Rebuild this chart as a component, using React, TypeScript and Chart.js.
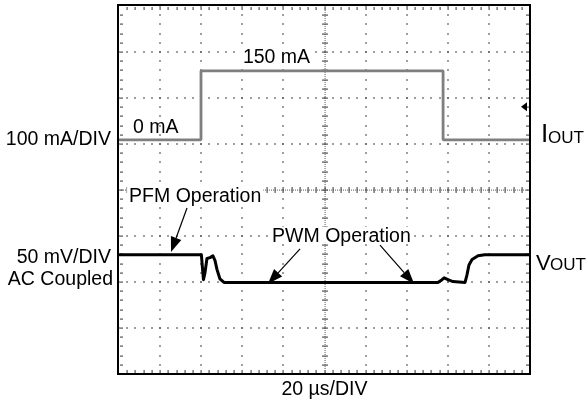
import React, { useEffect, useRef } from "react";
import { Chart, registerables } from "chart.js";

Chart.register(...registerables);

const FONT = '"Liberation Sans", Arial, Helvetica, sans-serif';

// Oscilloscope frame: 10 horizontal divisions of 20 µs, 8 vertical divisions
const X_TICKS_US = [0, 20, 40, 60, 80, 100, 120, 140, 160, 180, 200];
const Y_TICKS_DIV = [-4, -3, -2, -1, 0, 1, 2, 3, 4];

// Channel scaling
const MA_PER_DIV = 100;
const MV_PER_DIV = 50;
const IOUT_ZERO_DIV = 1.09; // screen position of 0 mA (divisions above centre)
const VOUT_REF_DIV = -1.41; // screen position of PFM VOUT level

// IOUT trace (mA)
const IOUT_T_US = [0, 39.9, 39.9, 157.7, 157.7, 200];
const IOUT_MA = [0, 0, 150, 150, 0, 0];

// VOUT trace, AC coupled (mV relative to PFM level)
const VOUT_T_US = [0, 40.1, 40.6, 41.1, 41.8, 42.8, 44.3, 45.7, 46.7, 47.7, 49.1, 51.1, 155.2, 157.2, 158.2, 160.1, 162.5, 168.4, 169.3, 170.3, 171.8, 174.7, 178, 200];
const VOUT_MV = [0, 0, -14, -27, -20, -4, -3, -1, -6, -16, -26, -30, -30, -27, -25, -27, -29, -30, -22, -11, -5, -1, 0, 0];

const TRIGGER_MA = 72;

export default function App() {
  const ref = useRef<HTMLCanvasElement | null>(null);

  useEffect(() => {
    const canvas = ref.current;
    if (!canvas) return;

    const scopePlugin = {
      id: "scope",
      beforeDatasetsDraw(chart: any) {
        const { ctx, chartArea: a, scales } = chart;
        const xs = scales.x;
        const yd = scales.yDiv;
        ctx.save();
        ctx.fillStyle = "#555";
        // vertical dotted gridlines
        X_TICKS_US.forEach((t) => {
          if (t === 0 || t === 200 || t === 100) return;
          const x = Math.round(xs.getPixelForValue(t));
          for (let k = 0; k <= 40; k++) {
            const y = yd.getPixelForValue(-4 + k * 0.2);
            ctx.fillRect(x - 0.75, Math.round(y) - 0.75, 1.5, 1.5);
          }
        });
        // horizontal dotted gridlines
        Y_TICKS_DIV.forEach((d) => {
          if (d === -4 || d === 4 || d === 0) return;
          const y = Math.round(yd.getPixelForValue(d));
          for (let k = 0; k <= 50; k++) {
            const x = xs.getPixelForValue(k * 4);
            ctx.fillRect(Math.round(x) - 0.75, y - 0.75, 1.5, 1.5);
          }
        });
        // minor ticks along border
        for (let k = 1; k < 50; k++) {
          const x = Math.round(xs.getPixelForValue(k * 4));
          ctx.fillRect(x - 0.5, a.top + 1, 1.2, 3);
          ctx.fillRect(x - 0.5, a.bottom - 4, 1.2, 3);
        }
        for (let k = 1; k < 40; k++) {
          const y = Math.round(yd.getPixelForValue(-4 + k * 0.2));
          ctx.fillRect(a.left + 1, y - 0.5, 3, 1.2);
          ctx.fillRect(a.right - 4, y - 0.5, 3, 1.2);
        }
        // centre crosshair
        const cx = Math.round(xs.getPixelForValue(100));
        const cy = Math.round(yd.getPixelForValue(0));
        ctx.fillStyle = "#777";
        for (let y = a.top; y <= a.bottom; y += 2) ctx.fillRect(cx - 0.5, y, 1.2, 1);
        for (let x = a.left; x <= a.right; x += 2) ctx.fillRect(x, cy - 0.5, 1, 1.2);
        ctx.fillStyle = "#555";
        for (let k = 1; k < 50; k++) {
          const x = Math.round(xs.getPixelForValue(k * 4));
          ctx.fillRect(x - 0.5, cy - 3, 1.2, 6);
        }
        for (let k = 1; k < 40; k++) {
          const y = Math.round(yd.getPixelForValue(-4 + k * 0.2));
          ctx.fillRect(cx - 3, y - 0.5, 6, 1.2);
        }
        ctx.restore();
      },
      afterDatasetsDraw(chart: any) {
        const { ctx, chartArea: a, scales } = chart;
        const xs = scales.x;
        const yd = scales.yDiv;
        const yi = scales.yI;
        const yv = scales.yV;
        ctx.save();
        // frame
        ctx.strokeStyle = "#000";
        ctx.lineWidth = 2;
        ctx.strokeRect(a.left - 1, a.top - 1, a.right - a.left + 1, a.bottom - a.top + 1);

        // trigger level marker
        const ty = yi.getPixelForValue(TRIGGER_MA);
        ctx.fillStyle = "#000";
        ctx.beginPath();
        ctx.moveTo(a.right - 9, ty);
        ctx.lineTo(a.right - 3, ty - 4.5);
        ctx.lineTo(a.right - 3, ty + 4.5);
        ctx.closePath();
        ctx.fill();

        // arrows
        const arrow = (t0: number, d0: number, t1: number, d1: number) => {
          const x0 = xs.getPixelForValue(t0), y0 = yd.getPixelForValue(d0);
          const x1 = xs.getPixelForValue(t1), y1 = yd.getPixelForValue(d1);
          const ang = Math.atan2(y1 - y0, x1 - x0);
          const L = 15, W = 5.5;
          const bx = x1 - L * Math.cos(ang), by = y1 - L * Math.sin(ang);
          ctx.strokeStyle = "#000";
          ctx.lineWidth = 1.2;
          ctx.beginPath();
          ctx.moveTo(x0, y0);
          ctx.lineTo(bx, by);
          ctx.stroke();
          ctx.beginPath();
          ctx.moveTo(x1, y1);
          ctx.lineTo(bx + W * Math.sin(ang), by - W * Math.cos(ang));
          ctx.lineTo(bx - W * Math.sin(ang), by + W * Math.cos(ang));
          ctx.closePath();
          ctx.fill();
        };
        arrow(33.1, -0.39, 25.3, -1.35);
        arrow(88.1, -1.28, 72.5, -2.04);
        arrow(127.0, -1.2, 143.6, -2.04);

        // labels
        const text = (s: string, x: number, y: number, size: number, align: CanvasTextAlign = "left", bg = false) => {
          ctx.font = `${size}px ${FONT}`;
          ctx.textAlign = align;
          ctx.textBaseline = "alphabetic";
          if (bg) {
            const w = ctx.measureText(s).width;
            const x0 = align === "left" ? x : align === "right" ? x - w : x - w / 2;
            ctx.fillStyle = "#fff";
            ctx.fillRect(x0 - 2, y - size * 0.78, w + 4, size * 0.82);
          }
          ctx.fillStyle = "#000";
          ctx.fillText(s, x, y);
        };
        const F = 19.5;
        text("0 mA", xs.getPixelForValue(6.8), yi.getPixelForValue(15), F);
        text("150 mA", xs.getPixelForValue(60.3), yi.getPixelForValue(167), F, "left", true);
        text("PFM Operation", xs.getPixelForValue(4.9), yd.getPixelForValue(-0.26), F, "left", true);
        text("PWM Operation", xs.getPixelForValue(74.5), yd.getPixelForValue(-1.13), F, "left", true);

        const i0 = yi.getPixelForValue(0);
        const v0 = yv.getPixelForValue(0);
        text("100 mA/DIV", a.left - 8, i0 + 5, F, "right");
        text("50 mV/DIV", a.left - 8, v0 + 8, F, "right");
        text("AC Coupled", a.left - 6, v0 + 30, F, "right");
        text("20 µs/DIV", (a.left + a.right) / 2, a.bottom + 21, F, "center");

        text("I", a.right + 11, i0 + 2, 26);
        text("OUT", a.right + 18, i0 + 3, 17);
        text("V", a.right + 6, v0 + 15, 22);
        text("OUT", a.right + 20, v0 + 15, 17);
        ctx.restore();
      },
    };

    const chart = new Chart(canvas, {
      type: "line",
      data: {
        datasets: [
          {
            label: "IOUT",
            yAxisID: "yI",
            data: IOUT_T_US.map((t, i) => ({ x: t, y: IOUT_MA[i] })),
            borderColor: "#7f7f7f",
            borderWidth: 2.8,
            borderJoinStyle: "bevel",
            pointRadius: 0,
            tension: 0,
          },
          {
            label: "VOUT",
            yAxisID: "yV",
            data: VOUT_T_US.map((t, i) => ({ x: t, y: VOUT_MV[i] })),
            borderColor: "#000",
            borderWidth: 3,
            borderJoinStyle: "round",
            pointRadius: 0,
            tension: 0,
          },
        ],
      },
      options: {
        responsive: false,
        animation: false,
        events: [],
        layout: { padding: { left: 119, right: 56, top: 6, bottom: 30 } },
        plugins: { legend: { display: false }, tooltip: { enabled: false } },
        scales: {
          x: { type: "linear", min: 0, max: 200, display: false },
          yDiv: { type: "linear", min: -4, max: 4, display: false },
          yI: {
            type: "linear",
            display: false,
            min: (-4 - IOUT_ZERO_DIV) * MA_PER_DIV,
            max: (4 - IOUT_ZERO_DIV) * MA_PER_DIV,
          },
          yV: {
            type: "linear",
            display: false,
            min: (-4 - VOUT_REF_DIV) * MV_PER_DIV,
            max: (4 - VOUT_REF_DIV) * MV_PER_DIV,
          },
        },
      },
      plugins: [scopePlugin],
    });
    return () => chart.destroy();
  }, []);

  return (
    <div style={{ position: "absolute", left: 0, top: 0, width: 586, height: 404, background: "#fff" }}>
      <canvas ref={ref} width={586} height={404} style={{ display: "block" }} />
    </div>
  );
}
